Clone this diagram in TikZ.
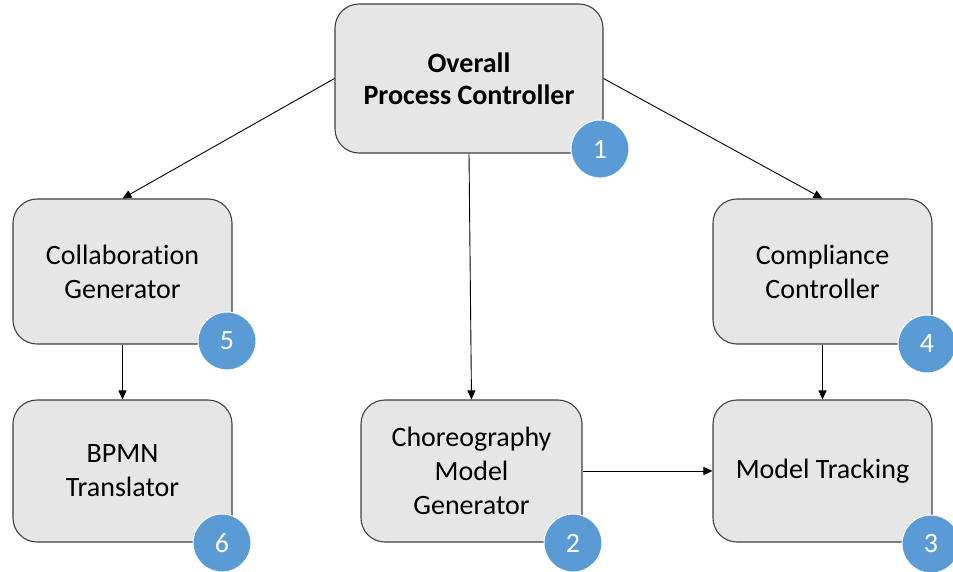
\documentclass[tikz,border=0pt]{standalone}
\usepackage{fontspec}
\setmainfont{Carlito}[Ligatures=NoCommon]
\usetikzlibrary{arrows.meta}
\definecolor{boxfill}{HTML}{E6E6E6}
\definecolor{boxline}{HTML}{404040}
\definecolor{numblue}{HTML}{5B9BD5}
\tikzset{
  procbox/.style={draw=boxline, line width=1.1pt, fill=boxfill, rounded corners=24pt,
    align=center, inner sep=0pt, font=\fontsize{28}{34}\selectfont},
  numcirc/.style={circle, fill=numblue, draw=white, line width=1pt, minimum size=58pt, inner sep=0pt,
    text=white, font=\fontsize{28}{30}\selectfont},
  conn/.style={line width=0.9pt, draw=black, -{Triangle[length=9pt,width=8pt]}}
}
\begin{document}
\begin{tikzpicture}[x=1pt,y=-1pt]
\useasboundingbox (0,0) rectangle (953,571);
\fill[white] (0,0) rectangle (953,571);
% boxes
\node[procbox, minimum width=268pt, minimum height=149pt, font=\fontsize{28}{32}\selectfont\bfseries] (b1) at (469,78.5) {Overall\\Process Controller};
\node[procbox, minimum width=219pt, minimum height=145pt] (b5) at (122.5,271.5) {Collaboration\\Generator};
\node[procbox, minimum width=219pt, minimum height=145pt] (b4) at (822.5,271.5) {Compliance\\Controller};
\node[procbox, minimum width=219pt, minimum height=142pt] (b6) at (122.5,471) {BPMN\\Translator};
\node[procbox, minimum width=221pt, minimum height=142pt] (b2) at (471.5,471) {Choreography\\Model\\Generator};
\node[procbox, minimum width=219pt, minimum height=142pt] (b3) at (822.5,471) {Model Tracking};
% connectors
\draw[conn] (b1.west) -- (b5.north);
\draw[conn] (b1.east) -- (b4.north);
\draw[conn] (b1.south) -- (b2.north);
\draw[conn] (b5.south) -- (b6.north);
\draw[conn] (b4.south) -- (b3.north);
\draw[conn] (b2.east) -- (b3.west);
% number badges
\node[numcirc] (c1) at (600,149) {1};
\node[numcirc] (c5) at (227,341) {5};
\node[numcirc] (c4) at (927,344) {4};
\node[numcirc] (c6) at (222,543) {6};
\node[numcirc] (c2) at (573,543) {2};
\node[numcirc] (c3) at (931,544) {3};
\end{tikzpicture}
\end{document}
